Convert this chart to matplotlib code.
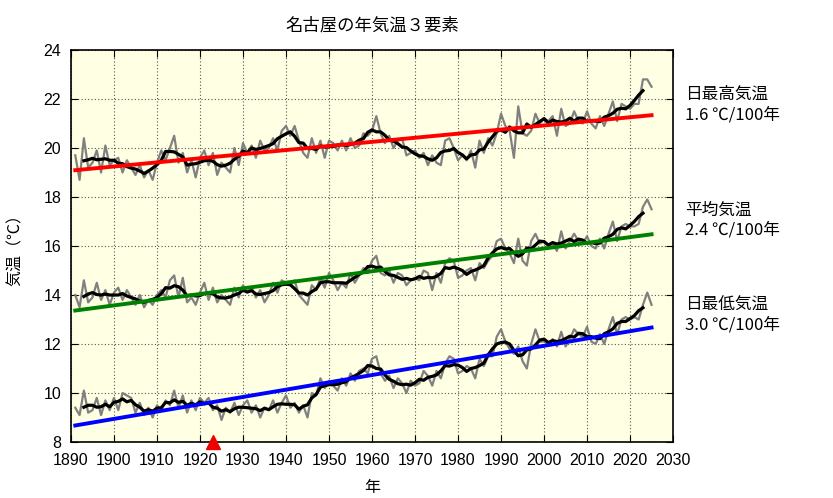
"""
名古屋の年気温３要素 (日最高・平均・日最低)
"""
import numpy as np
import matplotlib
matplotlib.use('Agg')
import matplotlib.pyplot as plt

plt.rcParams['font.family'] = ['Liberation Sans', 'Noto Sans CJK JP', 'DejaVu Sans']

years = np.arange(1891, 2026)

# 日最高気温 (annual mean of daily max)
tmax = [19.7, 18.7, 20.4, 19.2, 19.4, 19.9, 19.0, 20.1, 19.3, 19.5,
        19.6, 19.0, 19.5, 19.2, 18.9, 19.3, 18.8, 19.1, 18.7, 19.4,
        19.9, 19.5, 20.0, 20.5, 19.4, 19.8, 19.0, 19.5, 18.8, 19.6,
        19.9, 19.3, 19.8, 18.9, 19.4, 19.2, 19.0, 20.0, 19.3, 20.2,
        19.8, 20.1, 19.6, 20.3, 19.9, 20.0, 20.4, 19.9, 20.7, 20.9,
        20.5, 20.9, 20.3, 19.8, 19.6, 20.4, 19.8, 20.3, 19.6, 20.3,
        20.2, 19.9, 20.3, 19.9, 20.4, 20.0, 20.1, 20.6, 20.5, 20.7,
        21.3, 20.6, 20.2, 20.5, 20.0, 20.3, 20.4, 19.7, 19.8, 19.9,
        19.6, 19.8, 19.3, 19.7, 19.4, 19.3, 20.3, 20.4, 20.0, 19.5,
        19.7, 19.5, 19.9, 19.2, 20.3, 19.8, 20.4, 20.1, 20.6, 21.4,
        20.9, 20.7, 19.6, 21.7, 20.6, 20.5, 20.7, 21.4, 21.0, 21.2,
        21.1, 21.3, 20.5, 21.6, 20.9, 21.0, 21.5, 21.1, 21.0, 21.5,
        21.0, 20.8, 21.3, 20.9, 21.4, 21.9, 21.1, 21.8, 21.7, 21.6,
        21.8, 21.8, 22.8, 22.8, 22.5]

# 平均気温
tavg = [14.0, 13.5, 14.6, 13.7, 13.9, 14.5, 13.8, 14.2, 13.6, 14.1,
        14.3, 13.8, 14.2, 13.9, 13.6, 14.0, 13.5, 13.8, 13.6, 14.0,
        14.2, 13.9, 14.6, 14.8, 13.9, 14.7, 13.7, 13.9, 13.6, 14.1,
        14.5, 13.8, 14.3, 13.7, 14.0, 13.8, 13.6, 14.3, 13.9, 14.4,
        14.1, 14.3, 13.9, 14.2, 13.7, 14.0, 14.5, 14.1, 14.6, 14.5,
        14.4, 14.6, 14.0, 13.8, 13.6, 14.4, 14.2, 14.7, 14.3, 14.9,
        14.6, 14.2, 14.5, 14.3, 14.9, 14.5, 14.8, 15.1, 14.9, 15.4,
        15.6, 14.9, 14.8, 15.0, 14.5, 14.9, 14.8, 14.4, 14.6, 14.7,
        14.6, 15.0, 14.9, 14.2, 14.9, 14.5, 15.3, 15.5, 15.4, 14.7,
        14.8, 15.0, 15.1, 14.6, 15.3, 15.1, 15.4, 15.6, 16.2, 16.3,
        15.9, 15.7, 15.3, 16.3, 15.4, 15.2, 16.2, 16.5, 16.1, 16.2,
        16.0, 16.1, 15.8, 16.6, 15.9, 16.2, 16.5, 16.2, 16.1, 16.4,
        16.0, 15.9, 16.3, 15.9, 16.5, 17.0, 16.2, 16.8, 16.9, 16.8,
        16.8, 16.9, 17.6, 17.9, 17.5]

# 日最低気温
tmin = [9.4, 9.1, 10.1, 9.2, 9.3, 9.8, 9.1, 9.7, 9.3, 9.8,
        9.3, 10.0, 9.9, 9.8, 9.2, 9.6, 9.1, 9.4, 9.0, 9.5,
        9.3, 9.7, 9.5, 10.1, 9.4, 9.9, 9.2, 9.7, 9.3, 9.8,
        9.6, 9.8, 9.3, 9.5, 8.9, 9.4, 9.2, 9.6, 9.1, 9.5,
        9.7, 9.2, 9.5, 9.0, 9.4, 9.3, 9.7, 9.2, 9.6, 9.9,
        9.4, 9.6, 9.2, 9.5, 9.0, 10.0, 9.9, 10.6, 10.2, 10.5,
        10.3, 10.1, 10.6, 10.3, 10.8, 10.5, 10.9, 11.0, 10.8, 11.4,
        11.5, 10.8, 10.5, 10.7, 10.2, 10.6, 10.4, 10.0, 10.5, 10.3,
        10.4, 10.9, 10.7, 10.3, 10.9, 10.6, 11.2, 11.5, 11.4, 10.8,
        10.9, 11.1, 11.0, 10.6, 11.4, 11.1, 11.5, 11.5, 12.3, 12.6,
        12.1, 11.8, 11.6, 11.9, 11.3, 11.0, 12.0, 12.6, 12.1, 12.1,
        12.0, 12.2, 11.9, 12.5, 11.9, 12.2, 12.6, 12.4, 12.3, 12.7,
        12.1, 12.0, 12.4, 12.0, 12.6, 13.1, 12.4, 13.0, 13.1, 13.0,
        13.1, 13.0, 13.6, 14.1, 13.6]

labels = ['日最高気温\n1.6 ℃/100年', '平均気温\n2.4 ℃/100年', '日最低気温\n3.0 ℃/100年']
label_y = [21.76, 17.06, 13.18]
trend_colors = ['#ff0000', '#008000', '#0000ff']
moved_year = 1923  # 観測所移転

fig = plt.figure(figsize=(8.33, 4.98), dpi=100)
ax = fig.add_axes([0.0852, 0.1124, 0.7228, 0.7872])
ax.set_facecolor('#ffffe3')

for vals, col, lab, ly in zip([tmax, tavg, tmin], trend_colors, labels, label_y):
    vals = np.array(vals)
    ax.plot(years, vals, color='#808080', lw=1.6, zorder=2)
    run5 = np.convolve(vals, np.ones(5) / 5, mode='valid')
    ax.plot(years[2:-2], run5, color='black', lw=2.3, zorder=3)
    a, b = np.polyfit(years, vals, 1)
    ax.plot(years[[0, -1]], a * years[[0, -1]] + b, color=col, lw=2.8, zorder=4)
    ax.text(1.02, (ly - 8) / 16, lab, transform=ax.transAxes, fontsize=12,
            va='center', ha='left', linespacing=1.25,
            family=['Noto Sans CJK JP', 'DejaVu Sans'])

ax.plot([moved_year], [8], marker='^', color='#ee0000', markersize=10,
        clip_on=False, zorder=5)

ax.set_xlim(1890, 2030)
ax.set_ylim(8, 24)
ax.set_xticks(np.arange(1890, 2031, 10))
ax.set_yticks(np.arange(8, 25, 2))
ax.grid(True, color='#555555', linestyle=(0, (1, 2)), lw=0.8)
ax.tick_params(direction='in', top=True, right=True, labelsize=11.5, length=5)
ax.tick_params(axis='x', pad=8)
ax.tick_params(axis='y', pad=7)
for s in ax.spines.values():
    s.set_linewidth(1.2)

ax.set_title('名古屋の年気温３要素', fontsize=12.5, pad=14,
             family=['Noto Sans CJK JP', 'DejaVu Sans'])
ax.set_xlabel('年', fontsize=11.5, labelpad=8,
              family=['Noto Sans CJK JP', 'DejaVu Sans'])
ax.set_ylabel('気温（℃）', fontsize=11.5, labelpad=14,
              family=['Noto Sans CJK JP', 'DejaVu Sans'])

fig.savefig('out.png', dpi=100)
